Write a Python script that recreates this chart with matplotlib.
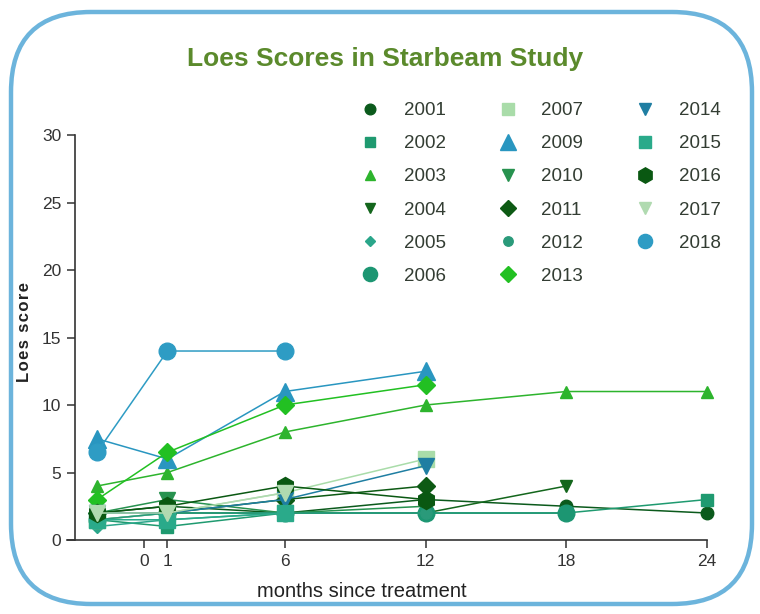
import matplotlib
matplotlib.use("Agg")
import matplotlib.pyplot as plt
from matplotlib.patches import FancyBboxPatch
from matplotlib.transforms import IdentityTransform
from matplotlib.lines import Line2D

plt.rcParams['font.family'] = ['Liberation Sans', 'DejaVu Sans']

# data (months since treatment, -2 = baseline)
years = ['2001', '2002', '2003', '2004', '2005', '2006', '2007', '2009', '2010',
         '2011', '2012', '2013', '2014', '2015', '2016', '2017', '2018']
months = {
    '2001': [-2, 1, 6, 12, 18, 24],
    '2002': [-2, 1, 6, 12, 18, 24],
    '2003': [-2, 1, 6, 12, 18, 24],
    '2004': [-2, 1, 6, 12, 18],
    '2005': [-2, 1, 6, 12],
    '2006': [-2, 1, 6, 12, 18],
    '2007': [-2, 1, 6, 12],
    '2009': [-2, 1, 6, 12],
    '2010': [-2, 1, 6, 12],
    '2011': [-2, 1, 6, 12],
    '2012': [-2, 1, 6, 12],
    '2013': [-2, 1, 6, 12],
    '2014': [-2, 1, 6, 12],
    '2015': [-2, 1, 6],
    '2016': [-2, 1, 6, 12],
    '2017': [-2, 1, 6],
    '2018': [-2, 1, 6],
}
scores = {
    '2001': [2, 2.5, 2, 3, 2.5, 2],
    '2002': [1.5, 1, 2, 2, 2, 3],
    '2003': [4, 5, 8, 10, 11, 11],
    '2004': [2, 2, 2, 2, 4],
    '2005': [1, 1.5, 2, 2],
    '2006': [1.5, 2, 2, 2, 2],
    '2007': [1.5, 2, 3.5, 6],
    '2009': [7.5, 6, 11, 12.5],
    '2010': [2, 3, 2, 2.5],
    '2011': [2, 2, 3, 4],
    '2012': [1.5, 2, 2, 2],
    '2013': [3, 6.5, 10, 11.5],
    '2014': [2, 2, 3, 5.5],
    '2015': [1.5, 1.5, 2],
    '2016': [2, 2.5, 4, 3],
    '2017': [2, 2, 3.5],
    '2018': [6.5, 14, 14],
}
x_ticks = [0, 1, 6, 12, 18, 24]
y_ticks = [0, 5, 10, 15, 20, 25, 30]

styles = {
    '2001': ('o', '#0b5a1c', 9),
    '2002': ('s', '#1f9a70', 9),
    '2003': ('^', '#2db42d', 9),
    '2004': ('v', '#13661c', 9),
    '2005': ('D', '#2aa68a', 6),
    '2006': ('o', '#1c9672', 12),
    '2007': ('s', '#a9dca9', 11),
    '2009': ('^', '#2996c0', 13),
    '2010': ('v', '#27924f', 11),
    '2011': ('D', '#0d5a14', 9),
    '2012': ('o', '#2a9a7a', 8),
    '2013': ('D', '#22c022', 9),
    '2014': ('v', '#1f7ea2', 11),
    '2015': ('s', '#2aaa8a', 11),
    '2016': ('h', '#0a5812', 13),
    '2017': ('v', '#b0dab0', 11),
    '2018': ('o', '#2e9cc4', 12),
}

fig = plt.figure(figsize=(7.6, 6.14), dpi=100)
fig.patch.set_facecolor('white')

border = FancyBboxPatch((11, 10), 741, 592, boxstyle="round,pad=0,rounding_size=80",
                        transform=IdentityTransform(), facecolor='none',
                        edgecolor='#6cb4dc', linewidth=3.2, zorder=-1)
fig.patches.append(border)

ax = fig.add_axes([0.0987, 0.1205, 0.8316, 0.6596])
ax.set_facecolor('none')

handles = []
for y in years:
    m, c, s = styles[y]
    ax.plot(months[y], scores[y], color=c, lw=1.1, marker=m, markersize=s,
            markerfacecolor=c, markeredgecolor=c, clip_on=False)
    handles.append(Line2D([], [], linestyle='none', marker=m, color=c,
                          markersize=s * 0.85, label=y))

ax.set_xlim(-2.94, 24)
ax.set_ylim(0, 30)
ax.set_xticks(x_ticks)
ax.set_yticks(y_ticks)
ax.spines['top'].set_visible(False)
ax.spines['right'].set_visible(False)
ax.spines['bottom'].set_bounds(-3.3, 24)
for sp in ('left', 'bottom'):
    ax.spines[sp].set_color('#333333')
    ax.spines[sp].set_linewidth(1.2)
ax.tick_params(direction='out', length=6, width=1.1, color='#333333',
               labelsize=12.5, labelcolor='#333333', pad=4)

ax.set_xlabel('months since treatment', fontsize=14.5, color='#222222')
ax.xaxis.set_label_coords((362 - 75) / 632, -0.104)

fig.text(25 / 760, 1 - 332 / 614, '\u200a'.join('Loes score'), rotation=90,
         ha='center', va='center', fontsize=12, fontweight='bold', color='#222222')

fig.text(0.5066, 0.904, 'Loes Scores in Starbeam Study', ha='center', va='center',
         fontsize=19, fontweight='bold', color='#5b8a2c')

fig.legend(handles=handles, ncol=3, frameon=False, loc='upper left',
           bbox_to_anchor=(0.4523, 0.861), fontsize=13.5, labelcolor='#333d33',
           handletextpad=1.3, columnspacing=2.8, labelspacing=0.85,
           handlelength=1.0)

fig.savefig('out.png', dpi=100)
